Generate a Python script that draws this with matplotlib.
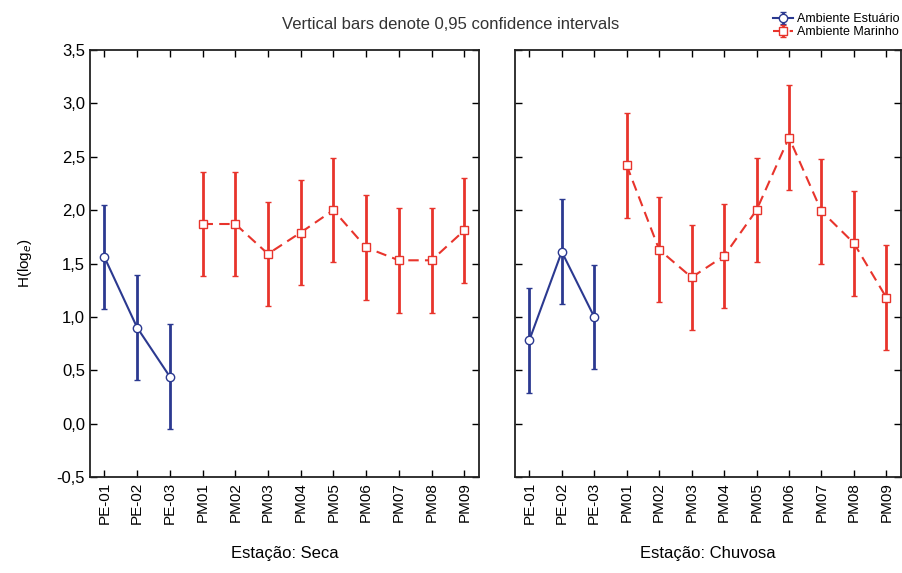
import numpy as np
import matplotlib
matplotlib.use("Agg")
import matplotlib.pyplot as plt

plt.rcParams['font.family'] = ['Liberation Sans', 'DejaVu Sans']

stations = ["PE-01", "PE-02", "PE-03", "PM01", "PM02", "PM03", "PM04",
            "PM05", "PM06", "PM07", "PM08", "PM09"]
estuary_stations = stations[:3]
marine_stations = stations[3:]

# Seca (dry season)
seca_estuario = [1.56, 0.90, 0.44]
seca_estuario_ci = [0.49, 0.49, 0.49]
seca_marinho = [1.87, 1.87, 1.59, 1.79, 2.00, 1.65, 1.53, 1.53, 1.81]
seca_marinho_ci = [0.49, 0.49, 0.49, 0.49, 0.49, 0.49, 0.49, 0.49, 0.49]

# Chuvosa (rainy season)
chuv_estuario = [0.78, 1.61, 1.00]
chuv_estuario_ci = [0.49, 0.49, 0.49]
chuv_marinho = [2.42, 1.63, 1.37, 1.57, 2.00, 2.68, 1.99, 1.69, 1.18]
chuv_marinho_ci = [0.49, 0.49, 0.49, 0.49, 0.49, 0.49, 0.49, 0.49, 0.49]

yticks = [-0.5, 0.0, 0.5, 1.0, 1.5, 2.0, 2.5, 3.0, 3.5]
ytick_labels = ["-0,5", "0,0", "0,5", "1,0", "1,5", "2,0", "2,5", "3,0", "3,5"]

blue = "#2b3990"
red = "#e8342c"

fig = plt.figure(figsize=(9.02, 5.73), dpi=100)
ax1 = fig.add_axes([90/902, 96/573, 389/902, 427/573])
ax2 = fig.add_axes([515/902, 96/573, 386/902, 427/573])

xpos = np.arange(len(stations))
xe = xpos[:3]
xm = xpos[3:]

def draw(ax, est, est_ci, mar, mar_ci):
    h1 = ax.errorbar(xe, est, yerr=est_ci, color=blue, lw=1.5, elinewidth=2.0,
                     capsize=2.5, capthick=1.2, marker='o', ms=6,
                     mfc='white', mec=blue, mew=1.0, ls='-', zorder=3)
    h2 = ax.errorbar(xm, mar, yerr=mar_ci, color=red, lw=1.5, elinewidth=2.0,
                     capsize=2.5, capthick=1.2, marker='s', ms=6,
                     mfc='white', mec=red, mew=1.0, ls=(0, (5, 3)), zorder=3)
    ax.set_xlim(-0.44, 11.45)
    ax.set_ylim(-0.5, 3.5)
    ax.set_xticks(xpos)
    ax.set_xticklabels(stations, rotation=90, fontsize=11)
    ax.set_yticks(yticks)
    ax.tick_params(direction='in', top=True, right=True, length=5, width=1.0)
    for s in ax.spines.values():
        s.set_linewidth(1.3)
        s.set_color("#222222")
    return h1, h2

h1, h2 = draw(ax1, seca_estuario, seca_estuario_ci, seca_marinho, seca_marinho_ci)
draw(ax2, chuv_estuario, chuv_estuario_ci, chuv_marinho, chuv_marinho_ci)

ax1.set_yticklabels(ytick_labels, fontsize=12)
ax2.set_yticklabels([])

ax1.set_xlabel("Estação: Seca", fontsize=12, labelpad=16)
ax2.set_xlabel("Estação: Chuvosa", fontsize=12, labelpad=16)
ax1.set_ylabel("H(log$_e$)", fontsize=11, labelpad=16)

fig.text(0.50, 0.957, "Vertical bars denote 0,95 confidence intervals",
         ha='center', va='center', fontsize=12, color="#333333")

fig.legend([h1, h2], ["Ambiente Estuário", "Ambiente Marinho"],
           loc='upper right', bbox_to_anchor=(1.005, 0.99), frameon=False,
           fontsize=9, handlelength=1.6, handletextpad=0.3,
           labelspacing=0.1, borderaxespad=0.2)

fig.savefig("out.png", dpi=100)
